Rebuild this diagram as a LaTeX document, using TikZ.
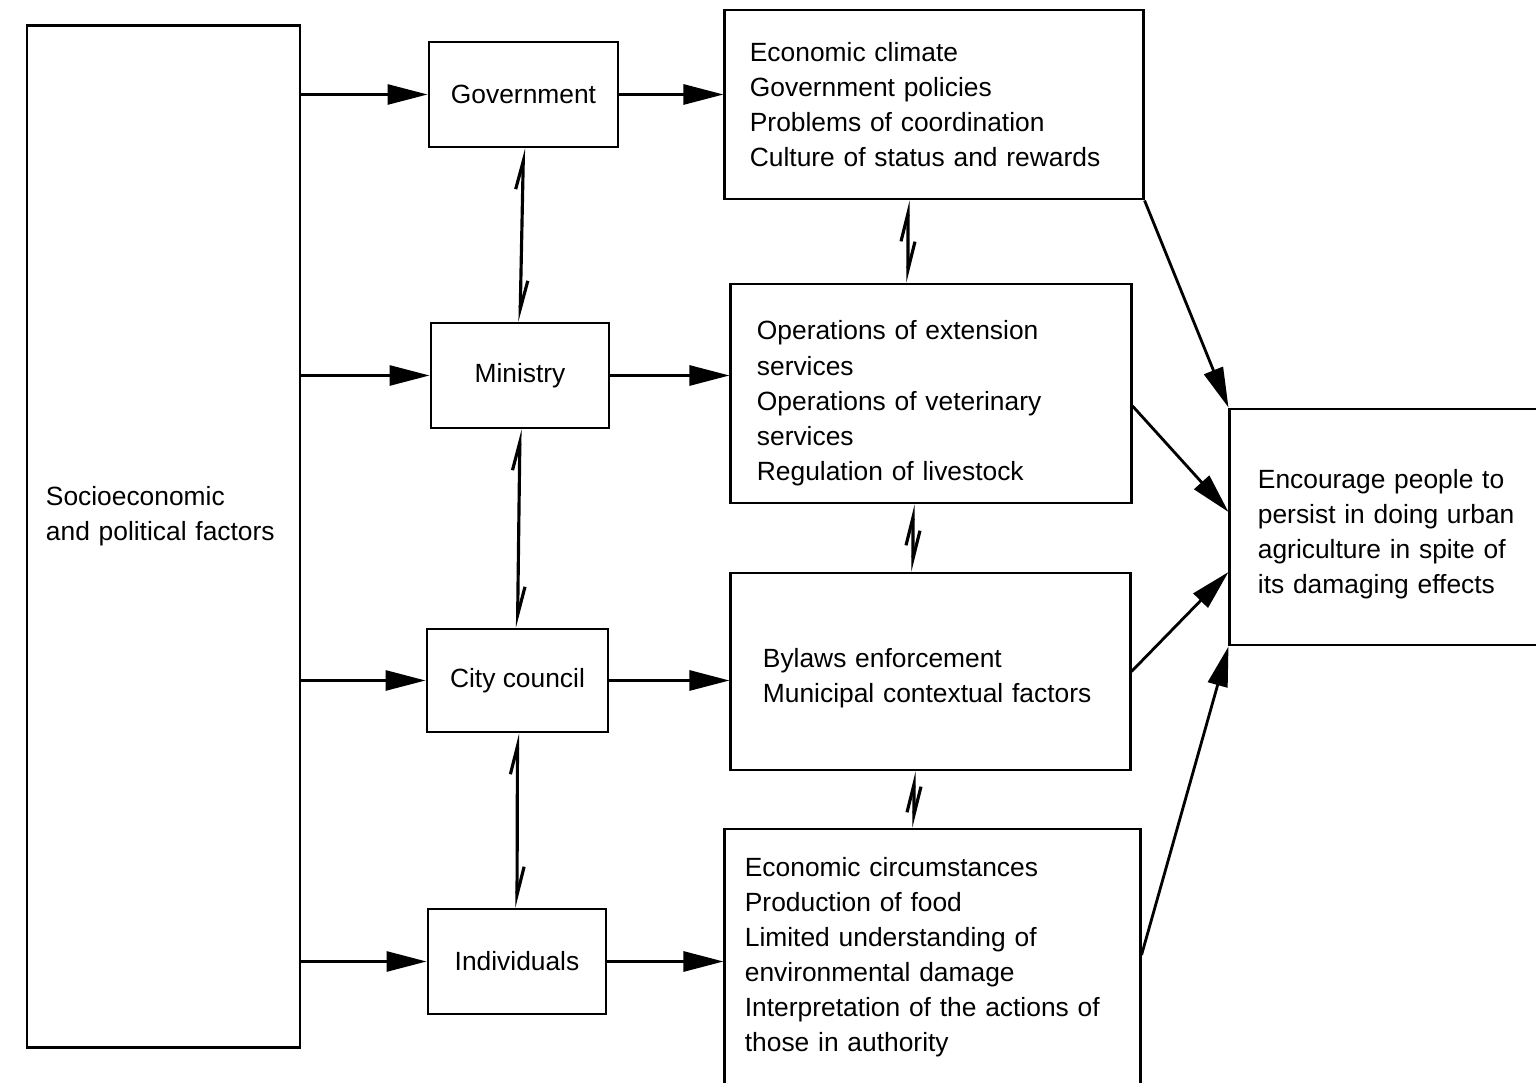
\documentclass[tikz,border=0pt]{standalone}
\usepackage{fontspec}
\setmainfont{Liberation Sans}
\usetikzlibrary{positioning}
\usetikzlibrary{arrows.meta}
\tikzset{tips=proper}
\tikzset{%
    actor/.style={rectangle, draw, line width=0.8pt, font=\fontsize{7.5}{10}\selectfont},
    effect/.style={rectangle, draw, line width=0.8pt, align=left, font=\fontsize{7.5}{10}\selectfont},
    arrow/.style={draw, line width=0.8pt, -{Triangle[length=4mm, width=2mm]}},
    link/.style={draw, line width=0.9pt, {Straight Barb[left, length=2.8mm, width=1.4mm]}-{Straight Barb[left, length=2.8mm, width=1.4mm]}}
}
\newcommand{\lowerby}[1]{\rule{0pt}{#1}}
\newcommand{\raiseby}[1]{\rule[-#1]{0pt}{#1}}

\begin{document}
\begin{tikzpicture}[x=0.01cm, y=-0.01cm]
    \useasboundingbox (0,0) rectangle (1536,1083);
    \clip (0,0) rectangle (1536,1083);
    \fill[white] (0,0) rectangle (1536,1083);

    \node[effect, minimum width=2.73cm, minimum height=10.21cm, inner xsep=0.19cm, text width=2.35cm] (socio) at (163.5,536.5)
        {Socioeconomic\\and political factors\raiseby{0.46cm}};

    \node[actor, minimum width=1.89cm, minimum height=1.05cm] (gov) at (523.5,94.5) {Government};
    \node[actor, minimum width=1.78cm, minimum height=1.05cm] (ministry) at (520,375.5) {Ministry};
    \node[actor, minimum width=1.81cm, minimum height=1.03cm] (city) at (517.5,680.5) {City council};
    \node[actor, minimum width=1.78cm, minimum height=1.05cm] (indiv) at (517,961.5) {Individuals};

    \node[effect, minimum width=4.18cm, minimum height=1.89cm, inner xsep=0.25cm, text width=3.68cm] (climate) at (934,104.5)
        {Economic climate\\Government policies\\Problems of coordination\\Culture of status and rewards};
    \node[effect, minimum width=4.00cm, minimum height=2.19cm, inner xsep=0.26cm, text width=3.48cm] (ext) at (931,393.5)
        {\lowerby{0.39cm}Operations of extension\\services\\Operations of veterinary\\services\\Regulation of livestock};
    \node[effect, minimum width=3.99cm, minimum height=1.97cm, inner xsep=0.32cm, text width=3.35cm] (bylaws) at (930.5,671.5)
        {\lowerby{0.33cm}Bylaws enforcement\\Municipal contextual factors};
    \node[effect, minimum width=4.15cm, minimum height=2.71cm, inner xsep=0.20cm, text width=3.75cm] (circ) at (932.5,964.5)
        {Economic circumstances\\Production of food\\Limited understanding of\\environmental damage\\Interpretation of the actions of\\those in authority\raiseby{0.20cm}};

    \node[effect, minimum width=4.00cm, minimum height=2.36cm, inner xsep=0.28cm, text width=3.44cm] (persist) at (1430,527)
        {\lowerby{0.33cm}Encourage people to\\persist in doing urban\\agriculture in spite of\\its damaging effects};

    \draw[arrow] (socio.east |- gov.west) -- (gov.west);
    \draw[arrow] (socio.east |- ministry.west) -- (ministry.west);
    \draw[arrow] (socio.east |- city.west) -- (city.west);
    \draw[arrow] (socio.east |- indiv.west) -- (indiv.west);

    \draw[arrow] (gov.east) -- (gov.east -| climate.west);
    \draw[arrow] (ministry.east) -- (ministry.east -| ext.west);
    \draw[arrow] (city.east) -- (city.east -| bylaws.west);
    \draw[arrow] (indiv.east) -- (indiv.east -| circ.west);

    \draw[link] (gov.south) -- (ministry.north);
    \draw[link] (ministry.south) -- (city.north);
    \draw[link] (city.south) -- (indiv.north);

    \draw[link] ([xshift=-0.26cm]climate.south) -- ([xshift=-0.23cm]ext.north);
    \draw[link] ([xshift=-0.18cm]ext.south) -- ([xshift=-0.175cm]bylaws.north);
    \draw[link] ([xshift=-0.165cm]bylaws.south) -- ([xshift=-0.185cm]circ.north);

    \draw[arrow] (climate.south east) -- (persist.north west);
    \draw[arrow] ([yshift=-0.125cm]ext.east) -- ([yshift=0.15cm]persist.west);
    \draw[arrow] (bylaws.east) -- ([yshift=-0.45cm]persist.west);
    \draw[arrow] ([yshift=0.095cm]circ.east) -- (persist.south west);
\end{tikzpicture}
\end{document}
